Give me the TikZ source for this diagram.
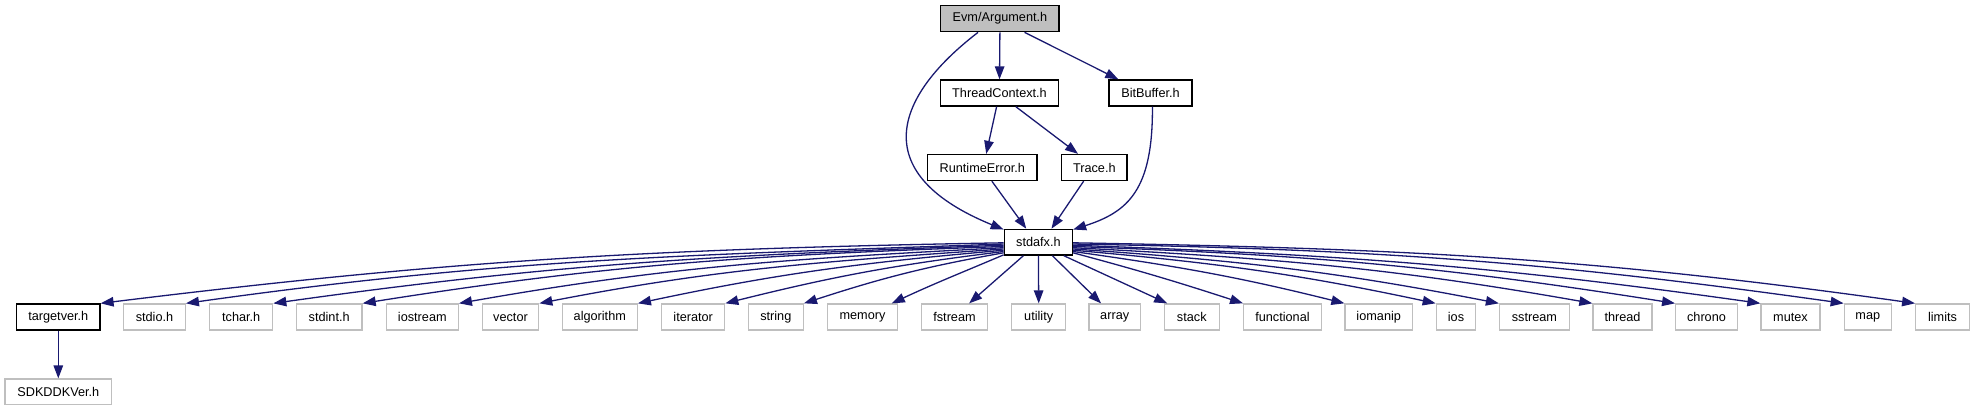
\documentclass[tikz,border=0pt]{standalone}
\usepackage{fontspec}
\setmainfont{Liberation Sans}
\usetikzlibrary{arrows.meta}
\definecolor{edgeblue}{HTML}{191970}
\definecolor{boxgray}{HTML}{BFBFBF}
\begin{document}
\begin{tikzpicture}[x=1pt,y=1pt,
  box/.style={draw=black, line width=1.3pt, fill=white, inner sep=0pt, minimum height=26pt, font=\fontsize{12.7}{15}\selectfont},
  ext/.style={box, draw=boxgray},
  dep/.style={draw=edgeblue, line width=1.3pt, -{Triangle[length=13pt,width=9.5pt]}}]
\useasboundingbox (0,0) rectangle (1975,-411);
% upper part
\node[box, fill=boxgray, minimum width=118.3pt] (arg) at (999.9,-18.7) {Evm/Argument.h};
\node[box, minimum width=117.6pt] (tc) at (999.5,-93) {ThreadContext.h};
\node[box, minimum width=83pt] (bb) at (1150.5,-93) {BitBuffer.h};
\node[box, minimum width=109.3pt] (re) at (982.3,-167.5) {RuntimeError.h};
\node[box, minimum width=65.3pt] (tr) at (1094.3,-167.5) {Trace.h};
\node[box, minimum width=68.2pt, minimum height=25.7pt] (sa) at (1038.4,-242.2) {stdafx.h};
% bottom row
\node[box, minimum width=83.3pt] (targetver) at (58.3,-317) {targetver.h};
\node[ext, minimum width=61.6pt] (stdio) at (154.5,-317) {stdio.h};
\node[ext, minimum width=63pt] (tchar) at (241.2,-317) {tchar.h};
\node[ext, minimum width=65.7pt] (stdint) at (329.2,-317) {stdint.h};
\node[ext, minimum width=72pt] (iostream) at (422.3,-317) {iostream};
\node[ext, minimum width=56.4pt] (vector) at (510.5,-317) {vector};
\node[ext, minimum width=75pt] (algorithm) at (599.8,-317) {algorithm};
\node[ext, minimum width=63pt] (iterator) at (693.2,-317) {iterator};
\node[ext, minimum width=55pt] (string) at (775.8,-317) {string};
\node[ext, minimum width=69.6pt] (memory) at (862.5,-317) {memory};
\node[ext, minimum width=65.6pt] (fstream) at (954.5,-317) {fstream};
\node[ext, minimum width=54pt] (utility) at (1038.7,-317) {utility};
\node[ext, minimum width=51.3pt] (array) at (1114.7,-317) {array};
\node[ext, minimum width=55pt] (stack) at (1191.8,-317) {stack};
\node[ext, minimum width=77.6pt] (functional) at (1282.5,-317) {functional};
\node[ext, minimum width=67.3pt] (iomanip) at (1378.7,-317) {iomanip};
\node[ext, minimum width=39.4pt] (ios) at (1456,-317) {ios};
\node[ext, minimum width=69.8pt] (sstream) at (1534.4,-317) {sstream};
\node[ext, minimum width=59pt] (thread) at (1622.5,-317) {thread};
\node[ext, minimum width=61.6pt] (chrono) at (1706.5,-317) {chrono};
\node[ext, minimum width=59pt] (mutex) at (1790.5,-317) {mutex};
\node[ext, minimum width=47pt] (map) at (1867.8,-317) {map};
\node[ext, minimum width=53.6pt] (limits) at (1942.5,-317) {limits};
\node[ext, minimum width=106.7pt, minimum height=25.3pt] (sdk) at (58.3,-391.7) {SDKDDKVer.h};
% upper edges
\draw[dep] (arg.south) -- (tc.north);
\draw[dep] (arg.-29) -- (bb.157);
\draw[dep] (arg.212) .. controls (890,-100) and (870,-175) .. (sa.160);
\draw[dep] (tc.258) -- (re.74);
\draw[dep] (tc.-40) -- (tr.140);
\draw[dep] (re.-55) -- (sa.132);
\draw[dep] (tr.232) -- (sa.46);
\draw[dep] (bb.278) .. controls (1153,-190) and (1128,-212) .. (sa.20);
% stdafx to the left
\draw[dep] (sa.181) to[out=181, in=7] (targetver.north east);
\draw[dep] (sa.183) to[out=182, in=8] (stdio.north east);
\draw[dep] (sa.185) to[out=182, in=8] (tchar.north east);
\draw[dep] (sa.187) to[out=182, in=9] (stdint.north east);
\draw[dep] (sa.189) to[out=183, in=10] (iostream.north east);
\draw[dep] (sa.191) to[out=184, in=11] (vector.north east);
\draw[dep] (sa.193) to[out=185, in=12] (algorithm.north east);
\draw[dep] (sa.195) to[out=187, in=14] (iterator.north east);
\draw[dep] (sa.197) to[out=190, in=18] (string.north east);
\draw[dep] (sa.200) to[out=203, in=25] (memory.25);
\draw[dep] (sa.222) -- (fstream.43);
\draw[dep] (sa.south) -- (utility.north);
\draw[dep] (sa.316) -- (array.135);
\draw[dep] (sa.332) -- (stack.151);
% stdafx to the right
\draw[dep] (sa.343) to[out=-15, in=162] (functional.north west);
\draw[dep] (sa.345) to[out=-8, in=166] (iomanip.north west);
\draw[dep] (sa.347) to[out=-5, in=168] (ios.north west);
\draw[dep] (sa.349) to[out=-4, in=169] (sstream.north west);
\draw[dep] (sa.351) to[out=-3, in=170] (thread.north west);
\draw[dep] (sa.353) to[out=-2, in=171] (chrono.north west);
\draw[dep] (sa.355) to[out=-2, in=172] (mutex.north west);
\draw[dep] (sa.357) to[out=-1, in=172] (map.north west);
\draw[dep] (sa.359) to[out=-1, in=172] (limits.north west);
% targetver
\draw[dep] (targetver.south) -- (sdk.north);
\end{tikzpicture}
\end{document}
